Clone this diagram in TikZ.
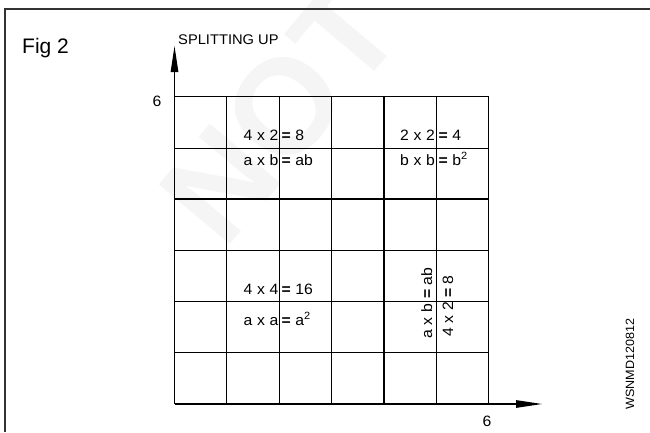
\documentclass[tikz,border=0pt]{standalone}
\usepackage{fontspec}
\setmainfont{Liberation Sans}
\newfontfamily\lbf[FakeStretch=1.05]{Liberation Sans}
\usetikzlibrary{arrows.meta}
\newcommand{\gp}{\hspace{4.6pt}}
\begin{document}
\begin{tikzpicture}[x=1pt,y=-1pt,
  lbl/.style={inner sep=0pt,font=\lbf\fontsize{15}{17}\selectfont},
  gridthin/.style={line width=1.6pt,black},
  gridthick/.style={line width=2.6pt,black},
  axis/.style={line width=1.1pt,-{Triangle[length=26pt,width=7.5pt]}},
  frame/.style={line width=1.6pt,black!80}]
\useasboundingbox (0,0) rectangle (650,432);
% watermark
\node[text=black!4,font=\fontsize{135}{135}\selectfont\bfseries,rotate=50] (wmark) at (280,112) {NOT};
% frame
\draw[frame] (5,432) -- (5,9) -- (650,9);
% grid
\foreach \x in {226.5,279.5,331.5,436.5} {\draw[gridthin] (\x,96.5) -- (\x,404);}
\foreach \y in {148.5,250.5,301.5,352.5} {\draw[gridthin] (174,\y) -- (488.5,\y);}
\draw[gridthin] (174,96.5) -- (488.5,96.5) -- (488.5,404);
\draw[gridthick] (384,96.5) -- (384,404);
\draw[gridthick] (174,199) -- (488.5,199);
% axes
\coordinate (origin) at (174.5,404);
\coordinate (ytip) at (174.5,46);
\coordinate (xtip) at (542,404);
\draw[axis] (origin) -- (ytip);
\draw[axis] (origin) -- (xtip);
% labels
\node[inner sep=0pt,font=\fontsize{21}{23}\selectfont,anchor=base west] (fig) at (22,53) {Fig 2};
\node[inner sep=0pt,font=\lbf\fontsize{14}{16}\selectfont,anchor=base west] (title) at (178,44) {SPLITTING UP};
\node[lbl,anchor=base] (ysix) at (157,106) {6};
\node[lbl,anchor=base] (xsix) at (487,426) {6};
\node[inner sep=0pt,font=\lbf\fontsize{12}{14}\selectfont,rotate=90,anchor=base west] (code) at (634,410) {WSNMD120812};
% top-left block
\node[lbl,anchor=base east] (t1a) at (278.5,140) {4\gp x\gp 2};
\node[lbl,anchor=base west] (t1b) at (281.5,140) {\textbf{=} 8};
\node[lbl,anchor=base east] (t2a) at (278.5,165) {a\gp x\gp b};
\node[lbl,anchor=base west] (t2b) at (281.5,165) {\textbf{=} ab};
% top-right block
\node[lbl,anchor=base east] (r1a) at (435,140) {2\gp x\gp 2};
\node[lbl,anchor=base west] (r1b) at (438.5,140) {\textbf{=} 4};
\node[lbl,anchor=base east] (r2a) at (435,165) {b\gp x\gp b};
\node[lbl,anchor=base west] (r2b) at (438.5,165) {\textbf{=} b\textsuperscript{2}};
% bottom-left block
\node[lbl,anchor=base east] (b1a) at (278.5,294) {4\gp x\gp 4};
\node[lbl,anchor=base west] (b1b) at (281.5,294) {\textbf{=} 16};
\node[lbl,anchor=base east] (b2a) at (278.5,325) {a\gp x\gp a};
\node[lbl,anchor=base west] (b2b) at (281.5,325) {\textbf{=} a\textsuperscript{2}};
% rotated block
\node[lbl,rotate=90,anchor=base east] (v1a) at (432,304) {a\gp x\gp b};
\node[lbl,rotate=90,anchor=base west] (v1b) at (432,299) {\textbf{=} ab};
\node[lbl,rotate=90,anchor=base east] (v2a) at (453,302) {4\gp x\gp 2};
\node[lbl,rotate=90,anchor=base west] (v2b) at (453,298) {\textbf{=} 8};
\end{tikzpicture}
\end{document}
